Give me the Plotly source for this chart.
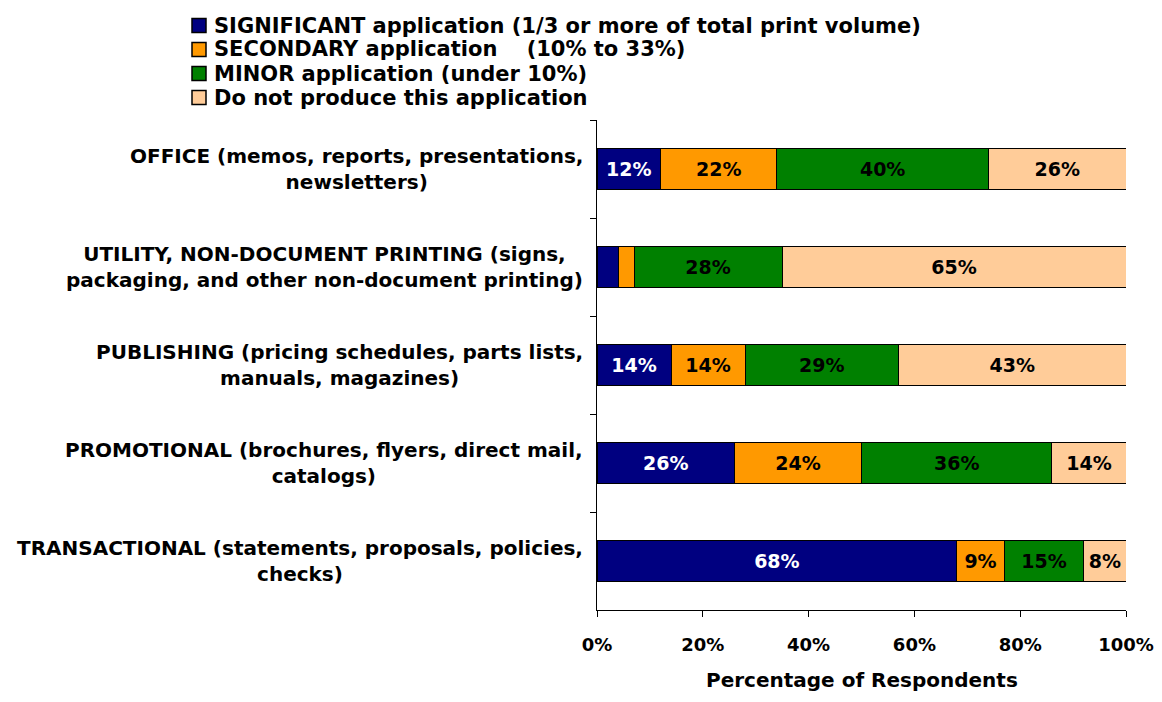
import plotly.graph_objects as go

categories = [
    "OFFICE (memos, reports, presentations,<br>newsletters)",
    "UTILITY, NON-DOCUMENT PRINTING (signs,<br>packaging, and other non-document printing)",
    "PUBLISHING (pricing schedules, parts lists,<br>manuals, magazines)",
    "PROMOTIONAL (brochures, flyers, direct mail,<br>catalogs)",
    "TRANSACTIONAL (statements, proposals, policies,<br>checks)",
]
significant = [12, 4, 14, 26, 68]
secondary = [22, 3, 14, 24, 9]
minor = [40, 28, 29, 36, 15]
not_produced = [26, 65, 43, 14, 8]

series_names = [
    "SIGNIFICANT application (1/3 or more of total print volume)",
    "SECONDARY application &nbsp;&nbsp;&nbsp;(10% to 33%)",
    "MINOR application (under 10%)",
    "Do not produce this application",
]
series_vals = [significant, secondary, minor, not_produced]
colors = ["#000080", "#FF9900", "#008000", "#FFCC99"]
text_colors = ["white", "black", "black", "black"]

FONT = "DejaVu Sans, Arial, sans-serif"

# plot area in pixels (inside the 8px page margin)
W, H = 1146, 686
L, T, PW, PH = 589, 112, 529, 490

fig = go.Figure()
for name, vals, color, tcolor in zip(series_names, series_vals, colors, text_colors):
    fig.add_trace(go.Bar(
        name=name,
        y=categories,
        x=vals,
        orientation="h",
        showlegend=False,
        marker=dict(color=color, line=dict(color="black", width=1)),
        text=[f"{v}%" if v >= 8 else "" for v in vals],
        textposition="inside",
        insidetextanchor="middle",
        textangle=0,
        constraintext="none",
        textfont=dict(family=FONT, size=19, color=tcolor, weight="bold"),
    ))

# category labels, centred lines, right edge just left of the axis
for cat in categories:
    fig.add_annotation(
        x=0, xref="paper", y=cat, yref="y",
        text=cat, showarrow=False, xanchor="right", align="center",
        xshift=-12,
        font=dict(family=FONT, size=20, color="black", weight="bold"),
    )

# hand-built legend (tighter row spacing than plotly's own legend)
def px_x(x):
    return (x - (L + 8)) / PW

def px_y(y):
    return (T + 8 + PH - y) / PH

row0, row_step, sq = 25.5, 24, 14
for i, (name, color) in enumerate(zip(series_names, colors)):
    cy = row0 + i * row_step
    fig.add_shape(
        type="rect", xref="paper", yref="paper",
        x0=px_x(192), x1=px_x(192 + sq),
        y0=px_y(cy + sq / 2), y1=px_y(cy - sq / 2),
        fillcolor=color, line=dict(color="black", width=1.5),
    )
    fig.add_annotation(
        x=px_x(212), xref="paper", y=px_y(cy), yref="paper",
        text=name, showarrow=False, xanchor="left", yanchor="middle",
        font=dict(family=FONT, size=21, color="black", weight="bold"),
    )

# x axis title, sitting low like the original
fig.add_annotation(
    x=0.5, xref="paper", y=px_y(680), yref="paper",
    text="Percentage of Respondents", showarrow=False,
    xanchor="center", yanchor="middle",
    font=dict(family=FONT, size=20, color="black", weight="bold"),
)

fig.update_layout(
    barmode="stack",
    bargap=0.59,
    width=W, height=H,
    paper_bgcolor="white", plot_bgcolor="white",
    margin=dict(l=L, r=W - L - PW, t=T, b=H - T - PH, autoexpand=False),
    font=dict(family=FONT, color="black"),
    xaxis=dict(
        range=[0, 100],
        tickvals=[0, 20, 40, 60, 80, 100],
        ticktext=["0%", "20%", "40%", "60%", "80%", "100%"],
        ticks="outside", ticklen=6, tickcolor="black",
        ticklabelstandoff=12,
        automargin=False,
        showline=True, linecolor="black", linewidth=1,
        showgrid=False, zeroline=False,
        tickfont=dict(family=FONT, size=18, weight="bold"),
    ),
    yaxis=dict(
        autorange="reversed",
        automargin=False,
        showticklabels=False,
        ticks="outside", ticklen=6, tickcolor="black", tickson="boundaries",
        showline=True, linecolor="black", linewidth=1,
        showgrid=False,
    ),
)

fig.write_html("out.html")
